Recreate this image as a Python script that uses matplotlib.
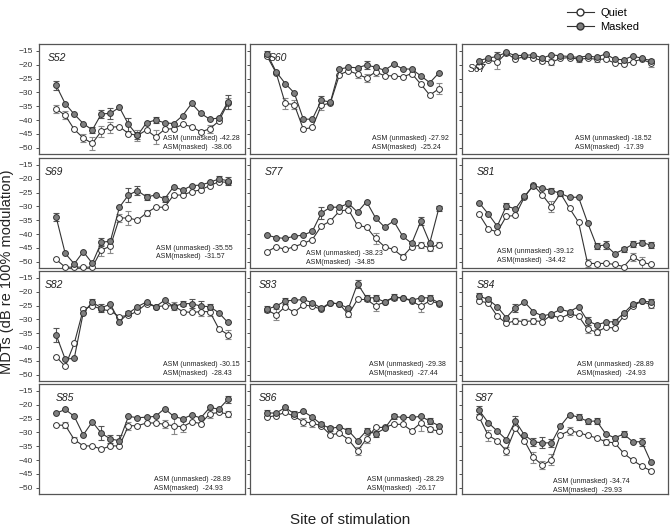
import matplotlib
matplotlib.use("Agg")
import matplotlib.pyplot as plt
from matplotlib.lines import Line2D

plt.rcParams['font.family'] = ['Liberation Sans', 'DejaVu Sans']

sites = list(range(1, 21))
yticks = [-15, -20, -25, -30, -35, -40, -45, -50]

subjects = ["S52", "S60", "S67", "S69", "S77", "S81",
            "S82", "S83", "S84", "S85", "S86", "S87"]

masked = {
    "S52": [-27.5, -34.1, -37.9, -41.3, -43.6, -37.8, -37.6, -35.4, -41.6, -45.6,
            -41.0, -40.0, -41.0, -41.3, -38.4, -34.0, -37.6, -39.7, -39.3, -33.5],
    "S60": [-16.1, -22.6, -26.8, -30.2, -39.7, -39.7, -32.9, -33.5, -21.6, -20.9,
            -21.1, -20.1, -20.9, -22.0, -19.8, -21.5, -21.6, -24.0, -26.5, -23.0],
    "S67": [-18.5, -17.6, -17.0, -15.5, -16.7, -16.6, -16.4, -17.6, -16.4, -16.8,
            -17.0, -17.4, -16.8, -17.3, -16.1, -18.0, -18.2, -16.8, -17.7, -18.5],
    "S69": [-33.9, -47.0, -50.8, -46.4, -50.6, -43.0, -42.6, -30.3, -25.9, -24.3,
            -26.6, -25.9, -27.3, -22.9, -24.1, -22.5, -22.3, -21.3, -20.1, -20.7],
    "S77": [-40.4, -41.3, -41.6, -40.8, -40.4, -39.0, -32.4, -30.3, -30.3, -28.9,
            -32.1, -28.3, -34.2, -37.5, -35.3, -40.8, -43.4, -35.4, -43.2, -30.7],
    "S81": [-28.7, -32.7, -37.2, -29.9, -30.9, -26.4, -22.5, -23.4, -24.3, -25.3,
            -26.7, -26.7, -35.9, -44.3, -44.0, -47.1, -45.6, -43.7, -43.1, -44.0],
    "S82": [-35.6, -44.4, -44.1, -27.6, -23.8, -25.8, -24.5, -30.8, -27.8, -25.4,
            -23.7, -25.4, -23.1, -25.4, -24.3, -24.3, -25.2, -25.4, -27.6, -31.1],
    "S83": [-26.3, -25.2, -23.3, -23.1, -22.8, -24.0, -26.0, -23.9, -24.5, -26.0,
            -17.1, -22.2, -22.2, -23.7, -21.9, -22.2, -23.1, -22.2, -22.2, -24.0],
    "S84": [-21.6, -22.8, -25.4, -29.4, -25.8, -23.7, -27.2, -28.8, -28.0, -26.4,
            -27.2, -25.4, -30.5, -32.0, -31.0, -30.8, -27.8, -24.5, -23.4, -23.7],
    "S85": [-23.1, -21.7, -24.2, -30.9, -26.2, -30.3, -32.4, -33.0, -24.2, -24.7,
            -24.5, -24.2, -21.4, -24.2, -25.1, -23.7, -24.8, -21.0, -21.6, -18.1],
    "S86": [-23.0, -23.0, -21.0, -23.3, -22.4, -24.5, -27.1, -28.6, -28.0, -29.4,
            -33.0, -29.4, -30.5, -28.6, -24.2, -24.6, -24.6, -24.2, -25.9, -27.6],
    "S87": [-22.0, -26.5, -29.5, -32.6, -25.9, -30.9, -33.4, -33.8, -33.8, -27.7,
            -23.6, -24.5, -26.0, -25.9, -30.5, -32.0, -30.6, -33.4, -33.4, -40.7],
}

quiet = {
    "S52": [-36.0, -38.3, -43.4, -46.5, -48.5, -44.0, -42.6, -42.4, -44.9, -45.6,
            -43.6, -46.1, -43.4, -43.1, -41.6, -42.4, -44.3, -43.2, -40.4, -34.0],
    "S60": [-17.0, -23.0, -34.0, -34.4, -43.3, -42.7, -34.7, -33.8, -23.6, -22.2,
            -23.4, -24.8, -22.6, -24.0, -24.0, -24.4, -23.2, -27.0, -31.0, -28.7],
    "S67": [-20.4, -18.2, -19.1, -15.8, -18.0, -17.0, -17.6, -18.5, -19.1, -17.7,
            -17.4, -18.0, -17.7, -18.0, -18.0, -19.4, -19.7, -18.9, -18.0, -19.4],
    "S69": [-49.2, -52.0, -52.0, -52.0, -52.0, -45.8, -44.4, -34.2, -34.2, -35.0,
            -32.4, -30.3, -30.3, -25.9, -25.9, -24.7, -24.0, -22.5, -21.1, -21.3],
    "S77": [-46.4, -44.6, -45.6, -44.6, -43.4, -42.0, -37.1, -35.3, -31.7, -31.2,
            -36.9, -37.5, -41.6, -44.6, -45.6, -48.2, -44.6, -44.0, -45.0, -43.8],
    "S81": [-32.9, -38.1, -39.3, -33.6, -33.3, -26.7, -22.3, -25.9, -30.1, -25.3,
            -30.7, -35.7, -50.6, -50.7, -50.6, -51.0, -51.8, -48.2, -50.2, -51.0],
    "S82": [-43.5, -47.0, -38.7, -26.4, -25.1, -26.3, -27.0, -29.0, -28.6, -27.0,
            -24.3, -25.4, -25.1, -25.1, -27.2, -27.5, -27.2, -27.2, -33.4, -35.5],
    "S83": [-26.6, -28.4, -25.4, -27.5, -24.8, -25.2, -26.4, -24.0, -24.5, -28.2,
            -22.8, -22.8, -25.1, -23.7, -22.2, -22.2, -23.4, -25.2, -23.3, -24.3],
    "S84": [-23.4, -24.0, -28.8, -31.4, -30.5, -30.8, -30.5, -30.8, -28.4, -29.6,
            -28.0, -28.8, -33.5, -34.6, -32.9, -33.1, -28.8, -25.2, -23.4, -24.8],
    "S85": [-27.4, -27.4, -32.6, -34.9, -34.9, -36.1, -34.9, -34.9, -27.6, -27.6,
            -26.6, -26.6, -27.1, -27.6, -28.0, -26.2, -26.8, -23.3, -22.8, -23.3],
    "S86": [-24.5, -23.9, -22.8, -24.2, -26.2, -26.6, -27.7, -30.9, -30.3, -32.6,
            -36.7, -32.3, -28.2, -28.2, -27.1, -27.1, -29.4, -26.6, -28.9, -29.5],
    "S87": [-24.5, -31.1, -33.0, -36.7, -28.6, -33.0, -39.0, -41.9, -39.9, -30.9,
            -29.4, -30.1, -31.1, -32.0, -33.4, -33.8, -37.6, -40.1, -42.2, -43.9],
}

# error bars (only where visible): site index -> half length
masked_err = {
    "S52": {0: 1.5, 4: 1.0, 5: 1.5, 6: 2.0, 8: 2.5, 9: 1.2, 11: 1.0, 19: 2.5},
    "S60": {0: 1.0, 6: 1.5, 11: 1.5},
    "S67": {2: 1.5},
    "S69": {0: 1.5, 5: 1.5, 8: 2.5, 9: 1.5, 10: 1.0, 12: 1.0, 18: 1.0, 19: 1.5},
    "S77": {6: 2.0, 9: 1.0, 17: 1.5, 19: 1.0},
    "S81": {3: 1.0, 8: 1.0, 9: 1.0, 13: 1.0, 14: 1.5, 16: 1.0, 17: 1.0, 18: 1.0, 19: 1.0},
    "S82": {0: 2.5, 4: 1.0, 5: 1.5, 8: 1.0, 14: 1.0, 15: 1.5, 16: 2.0, 17: 1.0},
    "S83": {0: 1.0, 2: 1.0, 10: 1.5, 11: 1.0, 12: 1.0, 14: 1.0, 18: 1.0},
    "S84": {0: 1.0, 1: 1.0, 4: 1.5, 12: 1.5, 15: 1.0, 19: 1.0},
    "S85": {5: 2.5, 6: 1.5, 7: 2.0, 19: 1.2},
    "S86": {0: 1.0, 3: 1.0, 6: 1.0, 7: 1.0, 9: 1.0, 11: 1.0, 12: 1.0, 14: 1.0, 18: 1.0},
    "S87": {0: 1.5, 4: 2.0, 6: 1.5, 7: 2.0, 8: 1.5, 11: 1.0, 12: 1.0, 13: 1.0, 16: 1.0, 18: 1.5},
}
quiet_err = {
    "S52": {0: 1.5, 1: 1.5, 3: 1.5, 4: 2.5, 5: 2.0, 6: 2.0, 9: 2.0, 11: 2.5, 17: 1.5, 19: 2.0},
    "S60": {2: 2.0, 3: 1.5, 6: 1.5, 10: 1.5, 11: 1.5, 12: 1.5, 19: 2.0},
    "S67": {2: 2.5, 7: 1.0, 8: 1.0, 11: 1.0, 13: 1.0, 19: 1.5},
    "S69": {5: 2.0, 6: 2.5, 7: 1.5, 8: 2.5, 10: 1.0},
    "S77": {12: 2.0, 15: 1.0, 17: 1.0, 18: 1.0, 19: 1.0},
    "S81": {8: 2.0, 9: 1.0, 12: 1.5, 17: 1.5, 18: 2.0},
    "S82": {3: 1.0, 13: 1.5, 16: 1.5, 17: 1.5, 19: 1.5},
    "S83": {1: 2.0, 9: 1.0, 12: 2.0, 17: 2.0},
    "S84": {4: 1.0, 5: 1.0, 6: 1.0, 12: 1.5, 13: 1.0, 19: 1.0},
    "S85": {1: 1.0, 2: 1.0, 8: 1.5, 12: 1.5, 13: 3.0, 14: 2.0, 17: 1.5, 19: 1.0},
    "S86": {4: 1.5, 5: 1.5, 10: 1.5, 11: 1.5, 17: 3.0, 18: 1.0},
    "S87": {1: 2.0, 3: 1.5, 6: 2.0, 7: 1.5, 8: 2.0, 10: 1.5, 14: 1.0},
}

asm_unmasked = {"S52": "-42.28", "S60": "-27.92", "S67": "-18.52", "S69": "-35.55",
                "S77": "-38.23", "S81": "-39.12", "S82": "-30.15", "S83": "-29.38",
                "S84": "-28.89", "S85": "-28.89", "S86": "-28.29", "S87": "-34.74"}
asm_masked = {"S52": "-38.06", "S60": "-25.24", "S67": "-17.39", "S69": "-31.57",
              "S77": "-34.85", "S81": "-34.42", "S82": "-28.43", "S83": "-27.44",
              "S84": "-24.93", "S85": "-24.93", "S86": "-26.17", "S87": "-29.93"}

# layout (pixels)
W, H = 672, 532
col_left = [39, 250, 462]
row_top = [44, 158, 271, 384]
pw, ph = 206, 110
label_pos = {"S52": (0.04, 0.87), "S60": (0.09, 0.87), "S67": (0.03, 0.77),
             "S69": (0.03, 0.87), "S77": (0.07, 0.87), "S81": (0.07, 0.87),
             "S82": (0.03, 0.87), "S83": (0.04, 0.87), "S84": (0.07, 0.87),
             "S85": (0.08, 0.87), "S86": (0.04, 0.87), "S87": (0.06, 0.87)}
asm_pos = {"S52": (0.60, 0.14), "S60": (0.59, 0.14), "S67": (0.55, 0.14),
           "S69": (0.57, 0.18), "S77": (0.27, 0.13), "S81": (0.17, 0.15),
           "S82": (0.60, 0.15), "S83": (0.58, 0.15), "S84": (0.56, 0.15),
           "S85": (0.56, 0.13), "S86": (0.57, 0.13), "S87": (0.44, 0.11)}

fig = plt.figure(figsize=(W / 100, H / 100), dpi=100)

for k, s in enumerate(subjects):
    r, c = divmod(k, 3)
    ax = fig.add_axes([col_left[c] / W, 1 - (row_top[r] + ph) / H, pw / W, ph / H])
    q_err = [quiet_err[s].get(i, 0) for i in range(len(sites))]
    m_err = [masked_err[s].get(i, 0) for i in range(len(sites))]
    ax.errorbar(sites, quiet[s], yerr=q_err, fmt='none', ecolor='#8a8a8a',
                elinewidth=0.8, capsize=2, capthick=0.8, zorder=2)
    ax.errorbar(sites, masked[s], yerr=m_err, fmt='none', ecolor='#555555',
                elinewidth=0.8, capsize=2, capthick=0.8, zorder=2)
    ax.plot(sites, quiet[s], '-o', color='#333333', lw=0.8, ms=4.2,
            mfc='white', mec='#333333', mew=0.7, zorder=3, clip_on=False)
    ax.plot(sites, masked[s], '-o', color='#333333', lw=0.8, ms=4.2,
            mfc='#7f7f7f', mec='#333333', mew=0.7, zorder=4, clip_on=False)
    ax.set_xlim(-0.9, 21.9)
    ax.set_ylim(-52.3, -12.5)
    ax.set_xticks([])
    ax.set_yticks(yticks)
    ax.tick_params(axis='y', length=2.5, width=0.6, labelsize=6, pad=2,
                   colors='#333333')
    if c != 0:
        ax.set_yticklabels([])
    for sp in ax.spines.values():
        sp.set_color('#555555')
        sp.set_linewidth(0.9)
    lx, ly = label_pos[s]
    ax.text(lx, ly, s, transform=ax.transAxes, fontsize=7.5, style='italic',
            va='center', ha='left', color='#222222')
    tx, ty = asm_pos[s]
    ax.text(tx, ty, "ASM (unmasked) " + asm_unmasked[s], transform=ax.transAxes,
            fontsize=5, va='center', ha='left', color='#222222')
    ax.text(tx, ty - 0.08, "ASM(masked)  " + asm_masked[s], transform=ax.transAxes,
            fontsize=5, va='center', ha='left', color='#222222')

handles = [
    Line2D([], [], color='#333333', lw=0.8, marker='o', ms=5, mfc='white', mec='#333333'),
    Line2D([], [], color='#333333', lw=0.8, marker='o', ms=5, mfc='#7f7f7f', mec='#333333'),
]
fig.legend(handles, ["Quiet", "Masked"], loc='upper left',
           bbox_to_anchor=(557 / W, 1 + 2 / H), frameon=False, fontsize=8,
           handlelength=2.4, labelspacing=0.35, handletextpad=0.6)

fig.text(7 / W, 0.49, "MDTs (dB re 100% modulation)", rotation=90,
         fontsize=10.5, va='center', ha='center', color='#222222')
fig.text(350 / W, 1 - 520 / H, "Site of stimulation", fontsize=11,
         va='center', ha='center', color='#222222')

fig.savefig("out.png", dpi=100)
